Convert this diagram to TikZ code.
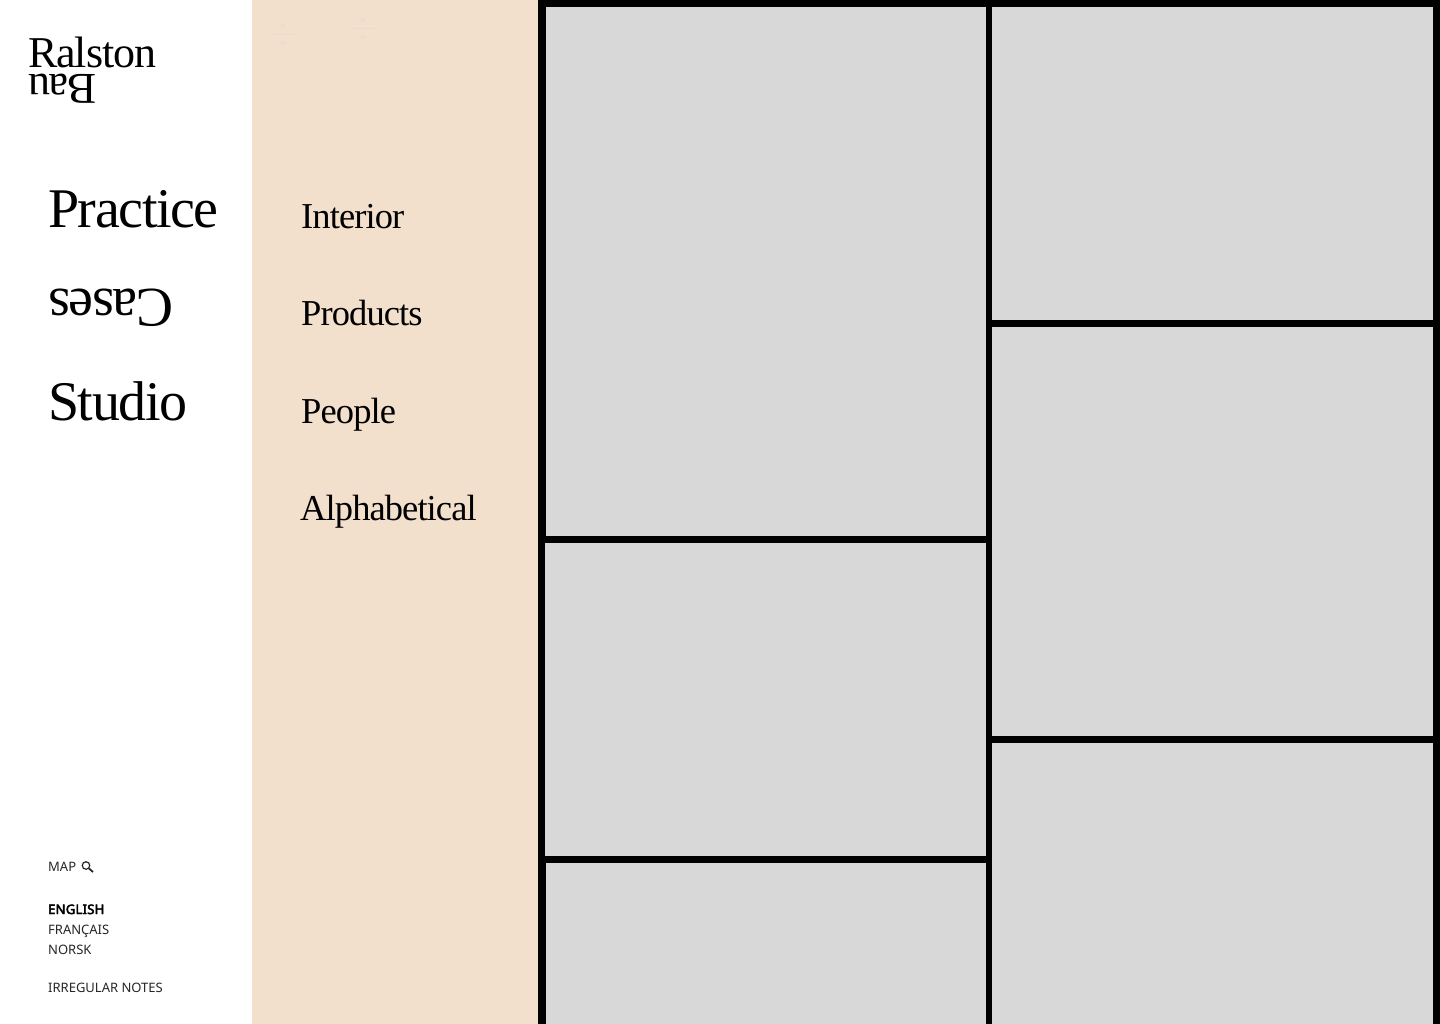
\documentclass[tikz,border=0pt]{standalone}
\usepackage{fontspec}
\usepackage{tikz}
\usetikzlibrary{positioning}
\setmainfont{Liberation Serif}[LetterSpace=-2.5]
\newfontfamily\menufont{Noto Sans}
\newfontfamily\menubold{Noto Sans}[FakeBold=3.5,LetterSpace=2]
\definecolor{sand}{HTML}{F2DFCC}
\definecolor{tile}{HTML}{D8D8D8}
\definecolor{ghost}{HTML}{EFDACD}

\begin{document}
\begin{tikzpicture}[x=1pt,y=-1pt]
	\tikzstyle{panel}=[rectangle, anchor=north west, inner sep=0, outer sep=0, draw=none]
	\tikzstyle{tile}=[panel, fill=tile, minimum width=440pt]
	\tikzstyle{logo}=[anchor=base west, inner sep=0, font=\fontsize{44}{44}\selectfont]
	\tikzstyle{big}=[anchor=base west, inner sep=0, font=\fontsize{56}{56}\selectfont]
	\tikzstyle{sub}=[anchor=base west, inner sep=0, font=\fontsize{36.5}{36.5}\selectfont]
	\tikzstyle{small}=[anchor=base west, inner sep=0, font=\menufont\fontsize{13}{13}\selectfont, text=black!85]
	\tikzstyle{speck}=[rectangle, inner sep=0, minimum size=4pt, fill=ghost]
	\useasboundingbox (0,0) rectangle (1440,1024);
	\node[panel, fill=white, minimum width=252pt, minimum height=1024pt] (side) at (0,0) { };
	\node[panel, fill=sand, minimum width=286pt, minimum height=1024pt] (sub) at (252,0) { };
	\node[panel, fill=black, minimum width=902pt, minimum height=1024pt] (wall) at (538,0) { };
	% left column of tiles
	\node[tile, minimum height=529pt] (tileA) at (546,7) { };
	\node[tile, minimum width=441pt, minimum height=313pt] (tileB) at (545,543) { };
	\node[tile, minimum height=161pt] (tileC) at (546,863) { };
	% right column of tiles
	\node[tile, minimum width=441pt, minimum height=313pt] (tileD) at (992,7) { };
	\node[tile, minimum width=441pt, minimum height=409pt] (tileE) at (992,327) { };
	\node[tile, minimum width=441pt, minimum height=281pt] (tileF) at (992,743) { };
	% logo
	\node[logo] (ralston) at (28,68) {Ralston};
	\node[logo, rotate=180] (bau) at (97,74.5) {Bau};
	% main menu
	\node[big] (practice) at (48,228) {Practice};
	\node[big, rotate=180] (cases) at (174,290) {Cases};
	\node[big] (studio) at (48,420) {Studio};
	% sub menu
	\node[sub] (interior) at (301,229) {Interior};
	\node[sub, below=97pt of interior.base west, anchor=base west] (products) {Products};
	\node[sub, below=97pt of products.base west, anchor=base west] (people) {People};
	\node[sub, below=97pt of people.base west, anchor=base west, xshift=-1pt] (alpha) {Alphabetical};
	% faint marks at the top of the sand panel
	\node[speck] (dotA) at (283,26) { };
	\node[speck] (dotB) at (283,43) { };
	\node[speck] (dotC) at (363,20) { };
	\node[speck] (dotD) at (363,37) { };
	\coordinate (barAl) at (268,34.5);
	\coordinate (barAr) at (298,34.5);
	\coordinate (barBl) at (348,28.5);
	\coordinate (barBr) at (378,28.5);
	\draw[ghost, line width=1pt] (barAl) -- (barAr);
	\draw[ghost, line width=1pt] (barBl) -- (barBr);
	% small links
	\node[small] (map) at (48,871) {MAP};
	\node[circle, draw=black!85, line width=1.2pt, inner sep=0, minimum size=7.5pt] (lens) at (86,865.5) { };
	\coordinate (grip) at (93,872);
	\draw[black!85, line width=1.8pt] (lens.south east) -- (grip);
	\node[small, font=\menubold\fontsize{13}{13}\selectfont, text=black] (english) at (48,914) {ENGLISH};
	\node[small, below=20pt of english.base west, anchor=base west] (francais) {FRANÇAIS};
	\node[small, below=20pt of francais.base west, anchor=base west] (norsk) {NORSK};
	\node[small] (notes) at (48,992) {IRREGULAR NOTES};
\end{tikzpicture}
\end{document}
